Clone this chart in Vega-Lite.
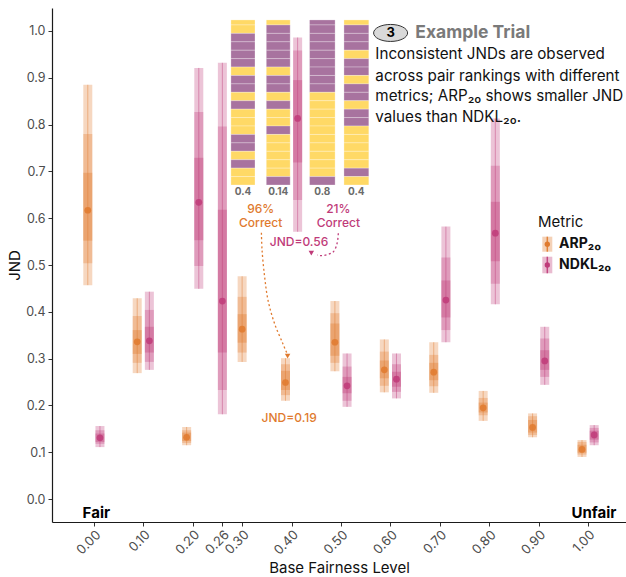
{
  "$schema": "https://vega.github.io/schema/vega-lite/v6.json",
  "width": 574,
  "height": 514,
  "autosize": {"type": "none"},
  "padding": {"left": 52, "top": 8, "right": 0, "bottom": 55},
  "background": "white",
  "config": {
    "view": {"stroke": null},
    "font": "Inter",
    "axis": {"grid": false}
  },
  "datasets": {
    "iv": [
      {"m": "ARP", "x": -0.0123, "olo": 0.457, "ohi": 0.885, "mlo": 0.504, "mhi": 0.780, "ilo": 0.552, "ihi": 0.697, "pt": 0.617},
      {"m": "ARP", "x": 0.0877, "olo": 0.269, "ohi": 0.429, "mlo": 0.291, "mhi": 0.391, "ilo": 0.310, "ihi": 0.361, "pt": 0.336},
      {"m": "ARP", "x": 0.1877, "olo": 0.115, "ohi": 0.154, "mlo": 0.120, "mhi": 0.147, "ilo": 0.124, "ihi": 0.142, "pt": 0.132},
      {"m": "ARP", "x": 0.30, "olo": 0.293, "ohi": 0.476, "mlo": 0.313, "mhi": 0.432, "ilo": 0.334, "ihi": 0.395, "pt": 0.363},
      {"m": "ARP", "x": 0.3877, "olo": 0.210, "ohi": 0.301, "mlo": 0.222, "mhi": 0.288, "ilo": 0.233, "ihi": 0.274, "pt": 0.249},
      {"m": "ARP", "x": 0.4877, "olo": 0.273, "ohi": 0.423, "mlo": 0.291, "mhi": 0.397, "ilo": 0.306, "ihi": 0.375, "pt": 0.335},
      {"m": "ARP", "x": 0.5877, "olo": 0.228, "ohi": 0.341, "mlo": 0.242, "mhi": 0.315, "ilo": 0.258, "ihi": 0.296, "pt": 0.276},
      {"m": "ARP", "x": 0.6877, "olo": 0.227, "ohi": 0.335, "mlo": 0.241, "mhi": 0.308, "ilo": 0.254, "ihi": 0.291, "pt": 0.271},
      {"m": "ARP", "x": 0.7877, "olo": 0.167, "ohi": 0.231, "mlo": 0.179, "mhi": 0.216, "ilo": 0.185, "ihi": 0.206, "pt": 0.195},
      {"m": "ARP", "x": 0.8877, "olo": 0.132, "ohi": 0.183, "mlo": 0.137, "mhi": 0.177, "ilo": 0.142, "ihi": 0.169, "pt": 0.153},
      {"m": "ARP", "x": 0.9877, "olo": 0.090, "ohi": 0.126, "mlo": 0.095, "mhi": 0.122, "ilo": 0.099, "ihi": 0.116, "pt": 0.106},
      {"m": "NDKL", "x": 0.0123, "olo": 0.111, "ohi": 0.156, "mlo": 0.118, "mhi": 0.147, "ilo": 0.122, "ihi": 0.140, "pt": 0.131},
      {"m": "NDKL", "x": 0.1123, "olo": 0.276, "ohi": 0.443, "mlo": 0.293, "mhi": 0.404, "ilo": 0.313, "ihi": 0.368, "pt": 0.338},
      {"m": "NDKL", "x": 0.2123, "olo": 0.449, "ohi": 0.921, "mlo": 0.498, "mhi": 0.827, "ilo": 0.553, "ihi": 0.729, "pt": 0.634},
      {"m": "NDKL", "x": 0.26, "olo": 0.181, "ohi": 0.932, "mlo": 0.233, "mhi": 0.796, "ilo": 0.313, "ihi": 0.618, "pt": 0.423},
      {"m": "NDKL", "x": 0.4123, "olo": 0.571, "ohi": 0.986, "mlo": 0.639, "mhi": 0.958, "ilo": 0.719, "ihi": 0.895, "pt": 0.813},
      {"m": "NDKL", "x": 0.5123, "olo": 0.197, "ohi": 0.311, "mlo": 0.210, "mhi": 0.283, "ilo": 0.226, "ihi": 0.261, "pt": 0.242},
      {"m": "NDKL", "x": 0.6123, "olo": 0.215, "ohi": 0.311, "mlo": 0.229, "mhi": 0.288, "ilo": 0.240, "ihi": 0.272, "pt": 0.256},
      {"m": "NDKL", "x": 0.7123, "olo": 0.335, "ohi": 0.582, "mlo": 0.361, "mhi": 0.516, "ilo": 0.388, "ihi": 0.467, "pt": 0.425},
      {"m": "NDKL", "x": 0.8123, "olo": 0.416, "ohi": 0.813, "mlo": 0.460, "mhi": 0.712, "ilo": 0.508, "ihi": 0.635, "pt": 0.568},
      {"m": "NDKL", "x": 0.9123, "olo": 0.244, "ohi": 0.368, "mlo": 0.261, "mhi": 0.343, "ilo": 0.276, "ihi": 0.318, "pt": 0.295},
      {"m": "NDKL", "x": 1.0123, "olo": 0.115, "ohi": 0.158, "mlo": 0.121, "mhi": 0.152, "ilo": 0.127, "ihi": 0.146, "pt": 0.137}
    ],
    "stripeCols": [
      {"c": 1, "x0": 0.2773, "x1": 0.3260},
      {"c": 2, "x0": 0.3489, "x1": 0.3972},
      {"c": 3, "x0": 0.4364, "x1": 0.4881},
      {"c": 4, "x0": 0.5060, "x1": 0.5563}
    ],
    "stripeRows": [
      {"s": 0, "y0": 1.0235, "y1": 1.0128},
      {"s": 1, "y0": 1.0128, "y1": 0.9948},
      {"s": 2, "y0": 0.9948, "y1": 0.9768},
      {"s": 3, "y0": 0.9768, "y1": 0.9588},
      {"s": 4, "y0": 0.9588, "y1": 0.9408},
      {"s": 5, "y0": 0.9408, "y1": 0.9229},
      {"s": 6, "y0": 0.9229, "y1": 0.9049},
      {"s": 7, "y0": 0.9049, "y1": 0.8869},
      {"s": 8, "y0": 0.8869, "y1": 0.8689},
      {"s": 9, "y0": 0.8689, "y1": 0.8509},
      {"s": 10, "y0": 0.8509, "y1": 0.8329},
      {"s": 11, "y0": 0.8329, "y1": 0.8149},
      {"s": 12, "y0": 0.8149, "y1": 0.7969},
      {"s": 13, "y0": 0.7969, "y1": 0.7789},
      {"s": 14, "y0": 0.7789, "y1": 0.7609},
      {"s": 15, "y0": 0.7609, "y1": 0.7429},
      {"s": 16, "y0": 0.7429, "y1": 0.7249},
      {"s": 17, "y0": 0.7249, "y1": 0.7069},
      {"s": 18, "y0": 0.7069, "y1": 0.6889},
      {"s": 19, "y0": 0.6889, "y1": 0.6709}
    ],
    "stripes": [
      {"c": 1, "s": 0, "g": "A"}, {"c": 1, "s": 1, "g": "A"}, {"c": 1, "s": 2, "g": "B"}, {"c": 1, "s": 3, "g": "B"}, {"c": 1, "s": 4, "g": "B"},
      {"c": 1, "s": 5, "g": "B"}, {"c": 1, "s": 6, "g": "A"}, {"c": 1, "s": 7, "g": "B"}, {"c": 1, "s": 8, "g": "B"}, {"c": 1, "s": 9, "g": "A"},
      {"c": 1, "s": 10, "g": "B"}, {"c": 1, "s": 11, "g": "A"}, {"c": 1, "s": 12, "g": "A"}, {"c": 1, "s": 13, "g": "A"}, {"c": 1, "s": 14, "g": "B"},
      {"c": 1, "s": 15, "g": "B"}, {"c": 1, "s": 16, "g": "A"}, {"c": 1, "s": 17, "g": "B"}, {"c": 1, "s": 18, "g": "A"}, {"c": 1, "s": 19, "g": "A"},
      {"c": 2, "s": 0, "g": "A"}, {"c": 2, "s": 1, "g": "B"}, {"c": 2, "s": 2, "g": "B"}, {"c": 2, "s": 3, "g": "B"}, {"c": 2, "s": 4, "g": "B"},
      {"c": 2, "s": 5, "g": "B"}, {"c": 2, "s": 6, "g": "A"}, {"c": 2, "s": 7, "g": "B"}, {"c": 2, "s": 8, "g": "B"}, {"c": 2, "s": 9, "g": "A"},
      {"c": 2, "s": 10, "g": "B"}, {"c": 2, "s": 11, "g": "A"}, {"c": 2, "s": 12, "g": "A"}, {"c": 2, "s": 13, "g": "B"}, {"c": 2, "s": 14, "g": "A"},
      {"c": 2, "s": 15, "g": "A"}, {"c": 2, "s": 16, "g": "A"}, {"c": 2, "s": 17, "g": "A"}, {"c": 2, "s": 18, "g": "A"}, {"c": 2, "s": 19, "g": "B"},
      {"c": 3, "s": 0, "g": "B"}, {"c": 3, "s": 1, "g": "B"}, {"c": 3, "s": 2, "g": "B"}, {"c": 3, "s": 3, "g": "B"}, {"c": 3, "s": 4, "g": "B"},
      {"c": 3, "s": 5, "g": "B"}, {"c": 3, "s": 6, "g": "B"}, {"c": 3, "s": 7, "g": "B"}, {"c": 3, "s": 8, "g": "B"}, {"c": 3, "s": 9, "g": "A"},
      {"c": 3, "s": 10, "g": "A"}, {"c": 3, "s": 11, "g": "A"}, {"c": 3, "s": 12, "g": "A"}, {"c": 3, "s": 13, "g": "A"}, {"c": 3, "s": 14, "g": "A"},
      {"c": 3, "s": 15, "g": "A"}, {"c": 3, "s": 16, "g": "A"}, {"c": 3, "s": 17, "g": "A"}, {"c": 3, "s": 18, "g": "A"}, {"c": 3, "s": 19, "g": "B"},
      {"c": 4, "s": 0, "g": "A"}, {"c": 4, "s": 1, "g": "B"}, {"c": 4, "s": 2, "g": "B"}, {"c": 4, "s": 3, "g": "B"}, {"c": 4, "s": 4, "g": "A"},
      {"c": 4, "s": 5, "g": "B"}, {"c": 4, "s": 6, "g": "B"}, {"c": 4, "s": 7, "g": "A"}, {"c": 4, "s": 8, "g": "B"}, {"c": 4, "s": 9, "g": "B"},
      {"c": 4, "s": 10, "g": "A"}, {"c": 4, "s": 11, "g": "B"}, {"c": 4, "s": 12, "g": "B"}, {"c": 4, "s": 13, "g": "A"}, {"c": 4, "s": 14, "g": "A"},
      {"c": 4, "s": 15, "g": "A"}, {"c": 4, "s": 16, "g": "A"}, {"c": 4, "s": 17, "g": "A"}, {"c": 4, "s": 18, "g": "B"}, {"c": 4, "s": 19, "g": "A"}
    ],
    "rankLabels": [
      {"x": 0.3017, "y": 0.6566, "t": "0.4"},
      {"x": 0.3731, "y": 0.6566, "t": "0.14"},
      {"x": 0.4622, "y": 0.6566, "t": "0.8"},
      {"x": 0.5311, "y": 0.6566, "t": "0.4"}
    ],
    "notes": [
      {"m": "ARP", "x": 0.3376, "y": 0.6197, "t": "96%"},
      {"m": "ARP", "x": 0.3376, "y": 0.5904, "t": "Correct"},
      {"m": "NDKL", "x": 0.4946, "y": 0.6197, "t": "21%"},
      {"m": "NDKL", "x": 0.4946, "y": 0.5904, "t": "Correct"},
      {"m": "NDKL", "x": 0.4151, "y": 0.5485, "t": "JND=0.56"},
      {"m": "ARP", "x": 0.3952, "y": 0.1724, "t": "JND=0.19"}
    ],
    "arrows": [
      {"m": "ARP", "o": 1, "x": 0.3390, "y": 0.5690},
      {"m": "ARP", "o": 2, "x": 0.3403, "y": 0.5321},
      {"m": "ARP", "o": 3, "x": 0.3455, "y": 0.4750},
      {"m": "ARP", "o": 4, "x": 0.3523, "y": 0.4252},
      {"m": "ARP", "o": 5, "x": 0.3654, "y": 0.3754},
      {"m": "ARP", "o": 6, "x": 0.3821, "y": 0.3327},
      {"m": "ARP", "o": 7, "x": 0.3907, "y": 0.3113},
      {"m": "NDKL", "o": 1, "x": 0.4946, "y": 0.5677},
      {"m": "NDKL", "o": 2, "x": 0.4934, "y": 0.5534},
      {"m": "NDKL", "o": 3, "x": 0.4901, "y": 0.5391},
      {"m": "NDKL", "o": 4, "x": 0.4847, "y": 0.5284},
      {"m": "NDKL", "o": 5, "x": 0.4748, "y": 0.5229},
      {"m": "NDKL", "o": 6, "x": 0.4616, "y": 0.5199},
      {"m": "NDKL", "o": 7, "x": 0.4517, "y": 0.5214}
    ],
    "heads": [
      {"m": "ARP", "x": 0.3920, "y": 0.3056},
      {"m": "NDKL", "x": 0.4400, "y": 0.5255}
    ],
    "badge": [
      {"x": 0.6004, "y": 0.9957, "t": "3"}
    ],
    "heading": [
      {"x": 0.6505, "y": 0.9957, "t": "Example Trial"}
    ],
    "body": [
      {"x": 0.5696, "y": 0.9502, "t": "Inconsistent JNDs are observed"},
      {"x": 0.5696, "y": 0.9043, "t": "across pair rankings with different"},
      {"x": 0.5696, "y": 0.8601, "t": "metrics; ARP₂₀ shows smaller JND"},
      {"x": 0.5696, "y": 0.8169, "t": "values than NDKL₂₀."}
    ],
    "legTitle": [
      {"x": 0.8986, "y": 0.5925, "t": "Metric"}
    ],
    "leg": [
      {"m": "ARP", "x": 0.9175, "y": 0.5445, "lo": 0.5284, "hi": 0.5605, "lx": 0.9414, "t": "ARP₂₀"},
      {"m": "NDKL", "x": 0.9175, "y": 0.5000, "lo": 0.4823, "hi": 0.5177, "lx": 0.9414, "t": "NDKL₂₀"}
    ],
    "ends": [
      {"x": 0.0050, "y": -0.0299, "t": "Fair"},
      {"x": 1.0119, "y": -0.0299, "t": "Unfair"}
    ]
  },
  "layer": [
    {
      "data": {"name": "stripes"},
      "transform": [
        {"lookup": "c", "from": {"data": {"name": "stripeCols"}, "key": "c", "fields": ["x0", "x1"]}},
        {"lookup": "s", "from": {"data": {"name": "stripeRows"}, "key": "s", "fields": ["y0", "y1"]}}
      ],
      "mark": {"type": "rect", "stroke": "white", "strokeWidth": 0.6, "strokeOpacity": 0.45},
      "encoding": {
        "x": {"field": "x0", "type": "quantitative", "title": "Base Fairness Level",
          "scale": {"domain": [-0.0746, 1.0666], "nice": false, "zero": false},
          "axis": {"values": [0, 0.1, 0.2, 0.26, 0.3, 0.4, 0.5, 0.6, 0.7, 0.8, 0.9, 1],
            "format": ".2f", "labelAngle": -45, "labelAlign": "right", "labelBaseline": "top",
            "labelFontSize": 13, "labelColor": "#4d4d4d", "labelOverlap": false, "labelFlush": false,
            "labelPadding": 2, "tickColor": "#333333", "tickSize": 4, "domainColor": "#1a1a1a", "domainWidth": 1.2,
            "titleFontSize": 15, "titleFontWeight": "normal", "titleColor": "#111111", "titlePadding": 3}},
        "x2": {"field": "x1"},
        "y": {"field": "y0", "type": "quantitative", "title": "JND",
          "scale": {"domain": [-0.049, 1.049], "nice": false, "zero": false},
          "axis": {"values": [0, 0.1, 0.2, 0.3, 0.4, 0.5, 0.6, 0.7, 0.8, 0.9, 1], "format": ".1f",
            "labelFontSize": 12.5, "labelColor": "#4d4d4d", "labelPadding": 3,
            "tickColor": "#333333", "tickSize": 4, "domainColor": "#1a1a1a", "domainWidth": 1.2,
            "titleFontSize": 15, "titleFontWeight": "normal", "titleColor": "#111111", "titlePadding": 3}},
        "y2": {"field": "y1"},
        "color": {"field": "g", "type": "nominal", "legend": null,
          "scale": {"domain": ["ARP", "NDKL", "A", "B"], "range": ["#E07A2E", "#BF3B79", "#FFD966", "#A8739F"]}}
      }
    },
    {
      "data": {"name": "iv"},
      "mark": {"type": "bar", "width": 9, "opacity": 0.3},
      "encoding": {
        "x": {"field": "x", "type": "quantitative", "title": "Base Fairness Level"},
        "y": {"field": "olo", "type": "quantitative", "title": "JND"},
        "y2": {"field": "ohi"},
        "color": {"field": "m", "type": "nominal", "legend": null}
      }
    },
    {
      "data": {"name": "iv"},
      "mark": {"type": "bar", "width": 9, "opacity": 0.3},
      "encoding": {
        "x": {"field": "x", "type": "quantitative", "title": "Base Fairness Level"},
        "y": {"field": "mlo", "type": "quantitative", "title": "JND"},
        "y2": {"field": "mhi"},
        "color": {"field": "m", "type": "nominal", "legend": null}
      }
    },
    {
      "data": {"name": "iv"},
      "mark": {"type": "bar", "width": 9, "opacity": 0.35},
      "encoding": {
        "x": {"field": "x", "type": "quantitative", "title": "Base Fairness Level"},
        "y": {"field": "ilo", "type": "quantitative", "title": "JND"},
        "y2": {"field": "ihi"},
        "color": {"field": "m", "type": "nominal", "legend": null}
      }
    },
    {
      "data": {"name": "iv"},
      "mark": {"type": "rule", "strokeWidth": 1, "opacity": 0.45},
      "encoding": {
        "x": {"field": "x", "type": "quantitative", "title": "Base Fairness Level"},
        "y": {"field": "olo", "type": "quantitative", "title": "JND"},
        "y2": {"field": "ohi"},
        "color": {"field": "m", "type": "nominal", "legend": null}
      }
    },
    {
      "data": {"name": "iv"},
      "mark": {"type": "circle", "size": 45, "opacity": 0.85},
      "encoding": {
        "x": {"field": "x", "type": "quantitative", "title": "Base Fairness Level"},
        "y": {"field": "pt", "type": "quantitative", "title": "JND"},
        "color": {"field": "m", "type": "nominal", "legend": null}
      }
    },
    {
      "data": {"name": "rankLabels"},
      "mark": {"type": "text", "fontSize": 10, "fontWeight": "bold", "color": "#6b6b6b", "align": "center", "baseline": "middle"},
      "encoding": {
        "x": {"field": "x", "type": "quantitative", "title": "Base Fairness Level"},
        "y": {"field": "y", "type": "quantitative", "title": "JND"},
        "text": {"field": "t"}
      }
    },
    {
      "data": {"name": "notes"},
      "mark": {"type": "text", "fontSize": 12, "fontWeight": 500, "align": "center", "baseline": "middle"},
      "encoding": {
        "x": {"field": "x", "type": "quantitative", "title": "Base Fairness Level"},
        "y": {"field": "y", "type": "quantitative", "title": "JND"},
        "text": {"field": "t"},
        "color": {"field": "m", "type": "nominal", "legend": null}
      }
    },
    {
      "data": {"name": "arrows"},
      "mark": {"type": "line", "strokeWidth": 1.3, "strokeDash": [2, 2.5], "interpolate": "catmull-rom"},
      "encoding": {
        "x": {"field": "x", "type": "quantitative", "title": "Base Fairness Level"},
        "y": {"field": "y", "type": "quantitative", "title": "JND"},
        "order": {"field": "o"},
        "color": {"field": "m", "type": "nominal", "legend": null}
      }
    },
    {
      "data": {"name": "heads"},
      "mark": {"type": "point", "shape": "triangle-down", "filled": true, "size": 30, "opacity": 1},
      "encoding": {
        "x": {"field": "x", "type": "quantitative", "title": "Base Fairness Level"},
        "y": {"field": "y", "type": "quantitative", "title": "JND"},
        "color": {"field": "m", "type": "nominal", "legend": null}
      }
    },
    {
      "data": {"name": "badge"},
      "mark": {"type": "point", "shape": "M-1,0A1,0.5,0,1,1,1,0A1,0.5,0,1,1,-1,0Z", "size": 1156, "filled": true, "fill": "#d9d9d9", "stroke": "#333333", "strokeWidth": 1, "opacity": 1},
      "encoding": {
        "x": {"field": "x", "type": "quantitative", "title": "Base Fairness Level"},
        "y": {"field": "y", "type": "quantitative", "title": "JND"}
      }
    },
    {
      "data": {"name": "badge"},
      "mark": {"type": "text", "fontSize": 13, "fontWeight": "bold", "color": "#000000", "align": "center", "baseline": "middle"},
      "encoding": {
        "x": {"field": "x", "type": "quantitative", "title": "Base Fairness Level"},
        "y": {"field": "y", "type": "quantitative", "title": "JND"},
        "text": {"field": "t"}
      }
    },
    {
      "data": {"name": "heading"},
      "mark": {"type": "text", "fontSize": 17.5, "fontWeight": "bold", "color": "#7a7a7a", "align": "left", "baseline": "middle"},
      "encoding": {
        "x": {"field": "x", "type": "quantitative", "title": "Base Fairness Level"},
        "y": {"field": "y", "type": "quantitative", "title": "JND"},
        "text": {"field": "t"}
      }
    },
    {
      "data": {"name": "body"},
      "mark": {"type": "text", "fontSize": 15.2, "color": "#111111", "align": "left", "baseline": "middle"},
      "encoding": {
        "x": {"field": "x", "type": "quantitative", "title": "Base Fairness Level"},
        "y": {"field": "y", "type": "quantitative", "title": "JND"},
        "text": {"field": "t"}
      }
    },
    {
      "data": {"name": "legTitle"},
      "mark": {"type": "text", "fontSize": 15, "color": "#111111", "align": "left", "baseline": "middle"},
      "encoding": {
        "x": {"field": "x", "type": "quantitative", "title": "Base Fairness Level"},
        "y": {"field": "y", "type": "quantitative", "title": "JND"},
        "text": {"field": "t"}
      }
    },
    {
      "data": {"name": "leg"},
      "mark": {"type": "bar", "width": 10, "opacity": 0.35},
      "encoding": {
        "x": {"field": "x", "type": "quantitative", "title": "Base Fairness Level"},
        "y": {"field": "lo", "type": "quantitative", "title": "JND"},
        "y2": {"field": "hi"},
        "color": {"field": "m", "type": "nominal", "legend": null}
      }
    },
    {
      "data": {"name": "leg"},
      "mark": {"type": "rule", "strokeWidth": 1.5, "opacity": 0.9},
      "encoding": {
        "x": {"field": "x", "type": "quantitative", "title": "Base Fairness Level"},
        "y": {"field": "lo", "type": "quantitative", "title": "JND"},
        "y2": {"field": "hi"},
        "color": {"field": "m", "type": "nominal", "legend": null}
      }
    },
    {
      "data": {"name": "leg"},
      "mark": {"type": "circle", "size": 28, "opacity": 1},
      "encoding": {
        "x": {"field": "x", "type": "quantitative", "title": "Base Fairness Level"},
        "y": {"field": "y", "type": "quantitative", "title": "JND"},
        "color": {"field": "m", "type": "nominal", "legend": null}
      }
    },
    {
      "data": {"name": "leg"},
      "mark": {"type": "text", "fontSize": 14, "fontWeight": "bold", "color": "#111111", "align": "left", "baseline": "middle"},
      "encoding": {
        "x": {"field": "lx", "type": "quantitative", "title": "Base Fairness Level"},
        "y": {"field": "y", "type": "quantitative", "title": "JND"},
        "text": {"field": "t"}
      }
    },
    {
      "data": {"name": "ends"},
      "mark": {"type": "text", "fontSize": 15, "fontWeight": "bold", "color": "#000000", "align": "center", "baseline": "middle"},
      "encoding": {
        "x": {"field": "x", "type": "quantitative", "title": "Base Fairness Level"},
        "y": {"field": "y", "type": "quantitative", "title": "JND"},
        "text": {"field": "t"}
      }
    }
  ]
}
